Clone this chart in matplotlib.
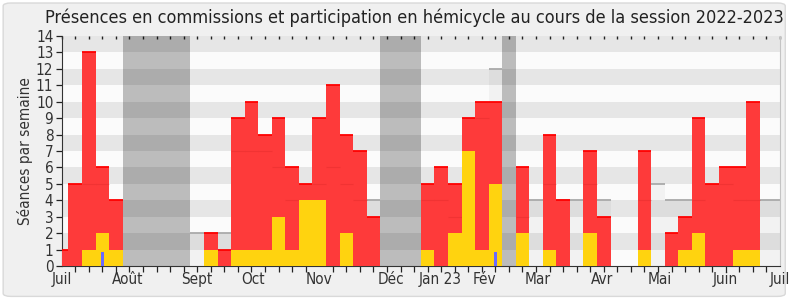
import matplotlib
matplotlib.use("Agg")
import matplotlib.pyplot as plt
from matplotlib.patches import FancyBboxPatch
import numpy as np

# Données hebdomadaires (semaine 0 = semaine du 1er juillet 2022)
weeks = np.arange(54)

# présences totales (commission + hémicycle)
presences = [1, 5, 13, 6, 4, 0, 0, 0, 0, 0,
             0, 2, 1, 9, 10, 8, 9, 6, 5, 9,
             11, 8, 7, 3, 0, 0, 0, 5, 6, 5,
             9, 10, 10, 0, 6, 0, 8, 4, 0, 7,
             3, 0, 0, 7, 0, 2, 3, 9, 5, 6,
             6, 10, 0, 0]
# niveau des présences en commission (trait interne)
presences_commission = [1, 5, 5, 5, 4, 0, 0, 0, 0, 0,
                        0, 2, 1, 7, 7, 7, 6, 4, 5, 5,
                        6, 5, 4, 3, 0, 0, 0, 4, 4, 3,
                        9, 9, 10, 0, 3, 0, 5, 4, 0, 5,
                        3, 0, 0, 4, 0, 2, 3, 4, 5, 5,
                        4, 4, 0, 0]
# participations en hémicycle
participations = [0, 0, 1, 2, 1, 0, 0, 0, 0, 0,
                  0, 1, 0, 1, 1, 1, 3, 1, 4, 4,
                  0, 2, 0, 0, 0, 0, 0, 1, 0, 2,
                  7, 1, 5, 0, 2, 0, 1, 0, 0, 2,
                  0, 0, 0, 1, 0, 0, 1, 2, 0, 0,
                  1, 1, 0, 0]
# questions orales
questions = {3: 0.85, 32: 0.85}
# médiane des députés
mediane = [0, 3, 3, 3, 3, 0, 0, 0, 0, 0,
           2, 2, 2, 4, 4, 4, 4, 4, 4, 4,
           4, 4, 4, 4, 0, 0, 0, 4, 4, 4,
           4, 4, 12, 0, 4, 4, 4, 4, 4, 4,
           4, 0, 0, 5, 5, 4, 4, 4, 4, 4,
           4, 4, 4, 4]
# vacances parlementaires (semaines début, fin)
vacances = [(5, 9), (24, 26), (33, 33)]

mois = ['Juil', 'Août', 'Sept', 'Oct', 'Nov', 'Déc', 'Jan 23', 'Fév',
        'Mar', 'Avr', 'Mai', 'Juin', 'Juil']
mois_pos = [0, 4.85, 9.95, 14.1, 19.0, 24.3, 27.9, 31.2, 35.1, 39.9, 44.15, 48.95, 53]

fig = plt.figure(figsize=(7.9, 3.0), dpi=100, facecolor='white')
fig.patches.append(FancyBboxPatch((0.004, 0.012), 0.99, 0.978, boxstyle='round,pad=0,rounding_size=0.01',
                                  transform=fig.transFigure, facecolor='#f0f0f0',
                                  edgecolor='#d9d9d9', linewidth=1, zorder=-10))
ax = fig.add_axes([61.7 / 790, 34 / 300, (780 - 61.7) / 790, 230 / 300])
ax.set_facecolor('#fbfbfb')

# bandes horizontales
for y in range(1, 14, 2):
    ax.axhspan(y, y + 1, color='#e6e6e6', lw=0, zorder=0)

# médiane
ax.bar(weeks, mediane, width=1, color='black', alpha=0.035, lw=0, zorder=1)
ax.hlines([m for m in mediane if m > 0], [w - 0.5 for w, m in zip(weeks, mediane) if m > 0],
          [w + 0.5 for w, m in zip(weeks, mediane) if m > 0], color='#aaaaaa', lw=1.3, zorder=1.5)

# vacances
for a, b in vacances:
    ax.axvspan(a - 0.5, b + 0.5, color='black', alpha=0.25, lw=0, zorder=2)

# présences
ax.bar(weeks, presences, width=1, color='#fe3a3a', lw=0, zorder=3)
sel = [i for i in weeks if 0 < presences_commission[i] < presences[i]]
ax.hlines([presences_commission[i] for i in sel], [i - 0.5 for i in sel], [i + 0.5 for i in sel],
          color='#d92727', lw=0.8, alpha=0.35, zorder=3.5)
sel = [i for i in weeks if presences[i] > 0]
ax.hlines([presences[i] for i in sel], [i - 0.5 for i in sel], [i + 0.5 for i in sel],
          color='#ff0000', lw=1.3, zorder=3.6)

# participations
ax.bar(weeks, participations, width=1, color='#ffd30f', lw=0, zorder=4)
ax.bar(list(questions.keys()), list(questions.values()), width=0.22, color='#6a6aff', lw=0, zorder=5)

ax.set_xlim(0, 53)
ax.set_ylim(0, 14)
ax.set_yticks(range(15))
ax.set_xticks(mois_pos)
ax.set_xticklabels(mois)
ax.set_xticks(weeks, minor=True)
ax.tick_params(axis='x', which='major', length=0, pad=4, labelsize=11, colors='#333333')
ax.tick_params(axis='x', which='minor', length=4, width=0.9, color='#222222')
ax.tick_params(axis='y', length=4, width=0.9, color='#222222', labelsize=11,
               labelcolor='#333333', pad=2)
for lab in ax.get_xticklabels() + ax.get_yticklabels():
    lab.set_fontstretch('condensed')

top = ax.secondary_xaxis('top')
top.set_xticks(weeks, labels=[])
top.tick_params(direction='in', length=2, width=1, color='#222222')
top.spines['top'].set_visible(False)

ax.spines['top'].set_visible(False)
ax.spines['right'].set_color('#c4c4c4')
ax.spines['left'].set_color('#333333')
ax.spines['bottom'].set_color('#333333')

ax.set_ylabel('Séances par semaine', fontsize=11, color='#333333', fontstretch='condensed', labelpad=2)
fig.text(0.525, 0.94, 'Présences en commissions et participation en hémicycle au cours de la session 2022-2023',
         ha='center', va='center', fontsize=13, color='#222222', fontstretch='condensed')

fig.savefig('out.png', dpi=100, facecolor=fig.get_facecolor())
